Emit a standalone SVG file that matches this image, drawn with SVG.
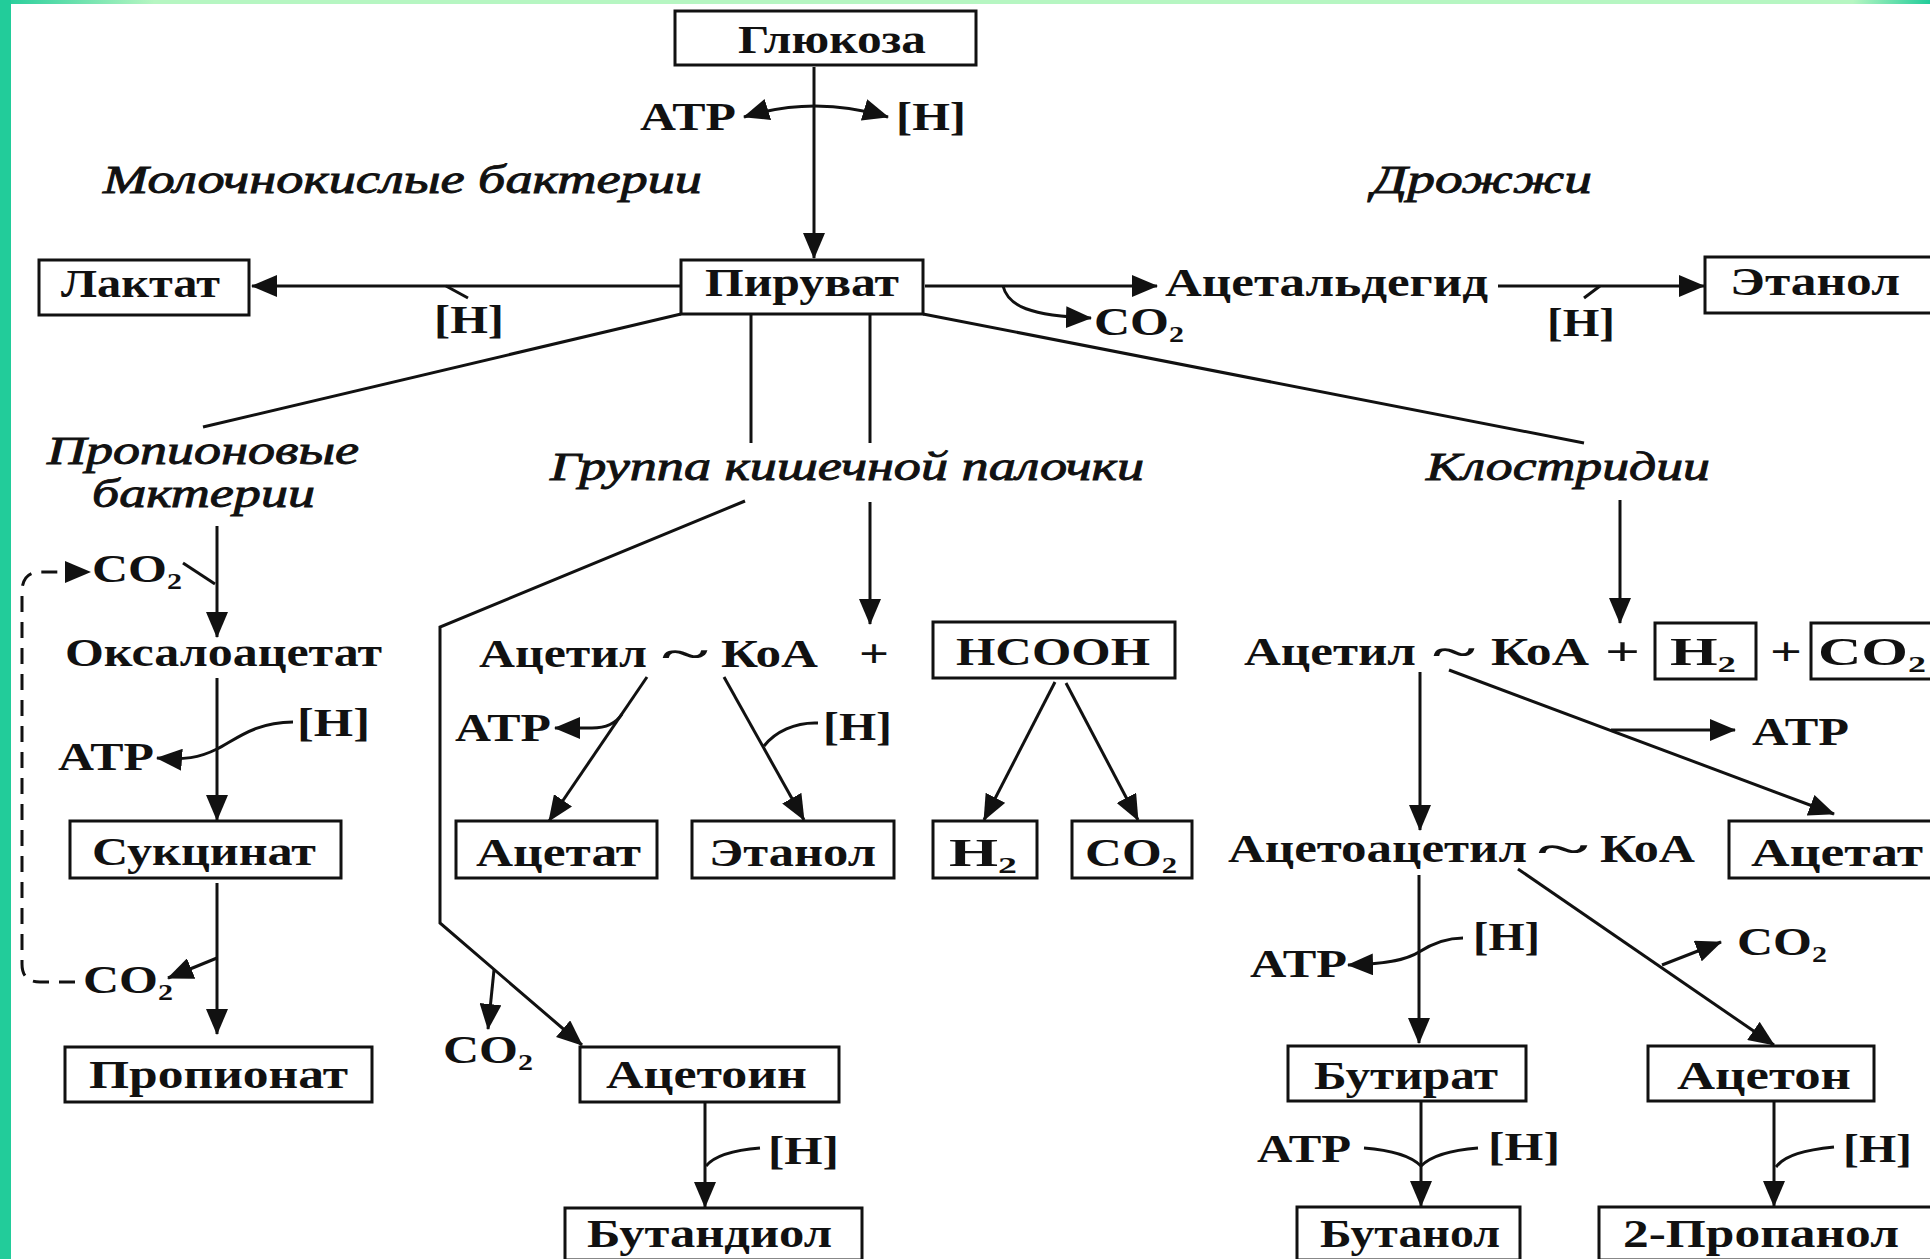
<svg xmlns="http://www.w3.org/2000/svg" width="1930" height="1259" viewBox="0 0 1930 1259">
<defs>
<linearGradient id="topg" x1="0" y1="0" x2="1" y2="0">
<stop offset="0" stop-color="#22cc9a"/>
<stop offset="0.08" stop-color="#b6f6c2"/>
<stop offset="0.96" stop-color="#b6f6c2"/>
<stop offset="1" stop-color="#22cc9a"/>
</linearGradient>
<marker id="ah" viewBox="0 0 26 22" refX="25" refY="11" markerWidth="26" markerHeight="22" markerUnits="userSpaceOnUse" orient="auto-start-reverse">
<path d="M0,0 L26,11 L0,22 z" fill="#111"/>
</marker>
<style>
.b{font-family:"Liberation Serif","Times New Roman",serif;font-size:40px;font-weight:bold;fill:#111}
.i{font-family:"Liberation Serif","Times New Roman",serif;font-size:40px;font-style:italic;fill:#111;stroke:#111;stroke-width:0.9}
.bx{fill:#fff;stroke:#111;stroke-width:3}
.ln{fill:none;stroke:#111;stroke-width:3}
.ar{marker-end:url(#ah)}
.ds{stroke-dasharray:16 10}
</style>
</defs>
<rect x="0" y="0" width="1930" height="1259" fill="#fff"/>
<rect x="0" y="0" width="1930" height="4" fill="url(#topg)"/>
<rect x="0" y="0" width="11" height="1259" fill="#22cc9a"/>

<g id="connectors">
<path class="ln ar" d="M814,67 L814,258"/>
<path class="ln" d="M744,117 Q814,95 888,117" marker-start="url(#ah)" marker-end="url(#ah)"/>
<path class="ln ar" d="M681,286 L252,286"/>
<path class="ln" d="M446,286 L468,298"/>
<path class="ln ar" d="M925,286 L1157,286"/>
<path class="ln ar" d="M1003,286 C1008,306 1030,316 1091,318"/>
<path class="ln ar" d="M1498,286 L1704,286"/>
<path class="ln" d="M1600,286 L1584,298"/>
<path class="ln" d="M681,314 L203,427"/>
<path class="ln" d="M751,314 L751,443"/>
<path class="ln" d="M870,314 L870,443"/>
<path class="ln" d="M923,314 L1584,443"/>
<path class="ln ar" d="M217,526 L217,637"/>
<path class="ln" d="M183,563 L215,584"/>
<path class="ln ds ar" d="M75,982 L40,982 Q22,982 22,964 L22,592 Q22,572 40,572 L90,572"/>
<path class="ln ar" d="M217,678 L217,820"/>
<path class="ln ar" d="M293,722 C255,722 235,740 217,749 S185,760 157,758"/>
<path class="ln ar" d="M217,883 L217,1034"/>
<path class="ln ar" d="M217,958 L168,978"/>
<path class="ln ar" d="M745,501 L440,627 L440,923 L582,1045"/>
<path class="ln ar" d="M494,970 L488,1029"/>
<path class="ln ar" d="M870,502 L870,624"/>
<path class="ln ar" d="M647,677 L549,821"/>
<path class="ln ar" d="M622,714 Q613,728 592,728 L555,728"/>
<path class="ln ar" d="M724,677 L804,820"/>
<path class="ln" d="M818,723 C795,722 775,732 764,746"/>
<path class="ln ar" d="M1055,682 L984,820"/>
<path class="ln ar" d="M1066,683 L1138,820"/>
<path class="ln ar" d="M705,1103 L705,1207"/>
<path class="ln" d="M760,1148 C735,1150 715,1155 706,1166"/>
<path class="ln ar" d="M1620,500 L1620,623"/>
<path class="ln ar" d="M1420,672 L1420,830"/>
<path class="ln ar" d="M1449,670 L1834,814"/>
<path class="ln ar" d="M1611,730 L1735,730"/>
<path class="ln ar" d="M1419,875 L1419,1043"/>
<path class="ln ar" d="M1463,938 C1445,938 1430,945 1419,952 S1390,964 1348,965"/>
<path class="ln ar" d="M1518,869 L1774,1045"/>
<path class="ln ar" d="M1662,965 L1721,942"/>
<path class="ln ar" d="M1421,1102 L1421,1206"/>
<path class="ln" d="M1364,1148 C1390,1150 1410,1155 1421,1166"/>
<path class="ln" d="M1478,1148 C1452,1150 1432,1155 1421,1166"/>
<path class="ln ar" d="M1774,1102 L1774,1206"/>
<path class="ln" d="M1834,1147 C1805,1150 1785,1155 1776,1167"/>
</g>

<g id="glucose"><rect class="bx" x="675" y="11" width="301" height="54"/><text class="b" x="738" y="53" textLength="188" lengthAdjust="spacingAndGlyphs">Глюкоза</text></g>
<g id="pyruvate"><rect class="bx" x="681" y="260" width="242" height="54"/><text class="b" x="705" y="296" textLength="194" lengthAdjust="spacingAndGlyphs">Пируват</text></g>
<g id="lactate"><rect class="bx" x="39" y="260" width="210" height="55"/><text class="b" x="61" y="297" textLength="159" lengthAdjust="spacingAndGlyphs">Лактат</text></g>
<g id="ethanol-yeast"><rect class="bx" x="1705" y="257" width="240" height="56"/><text class="b" x="1730" y="295" textLength="170" lengthAdjust="spacingAndGlyphs">Этанол</text></g>
<g id="hcooh"><rect class="bx" x="933" y="622" width="242" height="56"/><text class="b" x="956" y="665" textLength="194" lengthAdjust="spacingAndGlyphs">HCOOH</text></g>
<g id="h2-clost"><rect class="bx" x="1655" y="623" width="101" height="56"/><text class="b" x="1670" y="665" textLength="66" lengthAdjust="spacingAndGlyphs">H<tspan font-size="24" dy="7">2</tspan></text></g>
<g id="co2-clost"><rect class="bx" x="1811" y="623" width="140" height="56"/><text class="b" x="1818" y="665" textLength="108" lengthAdjust="spacingAndGlyphs">CO<tspan font-size="24" dy="7">2</tspan></text></g>
<g id="acetate-coli"><rect class="bx" x="456" y="821" width="201" height="57"/><text class="b" x="476" y="866" textLength="165" lengthAdjust="spacingAndGlyphs">Ацетат</text></g>
<g id="ethanol-coli"><rect class="bx" x="692" y="821" width="202" height="57"/><text class="b" x="709" y="866" textLength="167" lengthAdjust="spacingAndGlyphs">Этанол</text></g>
<g id="h2-coli"><rect class="bx" x="933" y="821" width="104" height="57"/><text class="b" x="949" y="866" textLength="68" lengthAdjust="spacingAndGlyphs">H<tspan font-size="24" dy="7">2</tspan></text></g>
<g id="co2-coli"><rect class="bx" x="1072" y="821" width="120" height="57"/><text class="b" x="1085" y="866" textLength="92" lengthAdjust="spacingAndGlyphs">CO<tspan font-size="24" dy="7">2</tspan></text></g>
<g id="succinate"><rect class="bx" x="70" y="821" width="271" height="57"/><text class="b" x="92" y="865" textLength="224" lengthAdjust="spacingAndGlyphs">Сукцинат</text></g>
<g id="acetate-clost"><rect class="bx" x="1729" y="821" width="220" height="57"/><text class="b" x="1751" y="866" textLength="172" lengthAdjust="spacingAndGlyphs">Ацетат</text></g>
<g id="propionate"><rect class="bx" x="65" y="1047" width="307" height="55"/><text class="b" x="89" y="1088" textLength="259" lengthAdjust="spacingAndGlyphs">Пропионат</text></g>
<g id="acetoin"><rect class="bx" x="580" y="1047" width="259" height="55"/><text class="b" x="606" y="1088" textLength="201" lengthAdjust="spacingAndGlyphs">Ацетоин</text></g>
<g id="butanediol"><rect class="bx" x="565" y="1208" width="297" height="52"/><text class="b" x="587" y="1247" textLength="245" lengthAdjust="spacingAndGlyphs">Бутандиол</text></g>
<g id="butyrate"><rect class="bx" x="1288" y="1046" width="238" height="55"/><text class="b" x="1314" y="1089" textLength="184" lengthAdjust="spacingAndGlyphs">Бутират</text></g>
<g id="acetone"><rect class="bx" x="1648" y="1046" width="226" height="55"/><text class="b" x="1677" y="1089" textLength="174" lengthAdjust="spacingAndGlyphs">Ацетон</text></g>
<g id="butanol"><rect class="bx" x="1297" y="1207" width="223" height="53"/><text class="b" x="1320" y="1247" textLength="180" lengthAdjust="spacingAndGlyphs">Бутанол</text></g>
<g id="propanol"><rect class="bx" x="1599" y="1207" width="350" height="53"/><text class="b" x="1623" y="1247" textLength="276" lengthAdjust="spacingAndGlyphs">2-Пропанол</text></g>

<g id="labels">
<text class="b" x="640" y="130" textLength="96" lengthAdjust="spacingAndGlyphs">ATP</text>
<text class="b" x="896" y="130" textLength="70" lengthAdjust="spacingAndGlyphs">[H]</text>
<text class="i" x="103" y="193" textLength="599" lengthAdjust="spacingAndGlyphs">Молочнокислые бактерии</text>
<text class="i" x="1372" y="193" textLength="220" lengthAdjust="spacingAndGlyphs">Дрожжи</text>
<text class="b" x="434" y="333" textLength="70" lengthAdjust="spacingAndGlyphs">[H]</text>
<text class="b" x="1165" y="296" textLength="323" lengthAdjust="spacingAndGlyphs">Ацетальдегид</text>
<text class="b" x="1094" y="335" textLength="90" lengthAdjust="spacingAndGlyphs">CO<tspan font-size="24" dy="7">2</tspan></text>
<text class="b" x="1547" y="336" textLength="68" lengthAdjust="spacingAndGlyphs">[H]</text>
<text class="i" x="47" y="464" textLength="312" lengthAdjust="spacingAndGlyphs">Пропионовые</text>
<text class="i" x="92" y="507" textLength="223" lengthAdjust="spacingAndGlyphs">бактерии</text>
<text class="i" x="550" y="480" textLength="594" lengthAdjust="spacingAndGlyphs">Группа кишечной палочки</text>
<text class="i" x="1426" y="480" textLength="284" lengthAdjust="spacingAndGlyphs">Клостридии</text>
<text class="b" x="92" y="582" textLength="90" lengthAdjust="spacingAndGlyphs">CO<tspan font-size="24" dy="7">2</tspan></text>
<text class="b" x="65" y="666" textLength="317" lengthAdjust="spacingAndGlyphs">Оксалоацетат</text>
<text class="b" x="297" y="736" textLength="73" lengthAdjust="spacingAndGlyphs">[H]</text>
<text class="b" x="58" y="770" textLength="96" lengthAdjust="spacingAndGlyphs">ATP</text>
<text class="b" x="83" y="993" textLength="90" lengthAdjust="spacingAndGlyphs">CO<tspan font-size="24" dy="7">2</tspan></text>
<text class="b" x="479" y="667" textLength="168" lengthAdjust="spacingAndGlyphs">Ацетил</text>
<text class="b" x="662" y="667" textLength="46" lengthAdjust="spacingAndGlyphs">~</text>
<text class="b" x="721" y="667" textLength="97" lengthAdjust="spacingAndGlyphs">КоА</text>
<text class="b" x="859" y="667" textLength="30" lengthAdjust="spacingAndGlyphs">+</text>
<text class="b" x="455" y="741" textLength="96" lengthAdjust="spacingAndGlyphs">ATP</text>
<text class="b" x="823" y="740" textLength="69" lengthAdjust="spacingAndGlyphs">[H]</text>
<text class="b" x="443" y="1063" textLength="90" lengthAdjust="spacingAndGlyphs">CO<tspan font-size="24" dy="7">2</tspan></text>
<text class="b" x="768" y="1164" textLength="71" lengthAdjust="spacingAndGlyphs">[H]</text>
<text class="b" x="1244" y="665" textLength="172" lengthAdjust="spacingAndGlyphs">Ацетил</text>
<text class="b" x="1433" y="665" textLength="42" lengthAdjust="spacingAndGlyphs">~</text>
<text class="b" x="1491" y="665" textLength="98" lengthAdjust="spacingAndGlyphs">КоА</text>
<text class="b" x="1605" y="665" textLength="35" lengthAdjust="spacingAndGlyphs">+</text>
<text class="b" x="1770" y="665" textLength="32" lengthAdjust="spacingAndGlyphs">+</text>
<text class="b" x="1752" y="745" textLength="97" lengthAdjust="spacingAndGlyphs">ATP</text>
<text class="b" x="1228" y="862" textLength="299" lengthAdjust="spacingAndGlyphs">Ацетоацетил</text>
<text class="b" x="1538" y="862" textLength="50" lengthAdjust="spacingAndGlyphs">~</text>
<text class="b" x="1600" y="862" textLength="95" lengthAdjust="spacingAndGlyphs">КоА</text>
<text class="b" x="1473" y="950" textLength="67" lengthAdjust="spacingAndGlyphs">[H]</text>
<text class="b" x="1250" y="977" textLength="97" lengthAdjust="spacingAndGlyphs">ATP</text>
<text class="b" x="1737" y="955" textLength="90" lengthAdjust="spacingAndGlyphs">CO<tspan font-size="24" dy="7">2</tspan></text>
<text class="b" x="1257" y="1162" textLength="94" lengthAdjust="spacingAndGlyphs">ATP</text>
<text class="b" x="1488" y="1160" textLength="72" lengthAdjust="spacingAndGlyphs">[H]</text>
<text class="b" x="1843" y="1162" textLength="69" lengthAdjust="spacingAndGlyphs">[H]</text>
</g>
</svg>
